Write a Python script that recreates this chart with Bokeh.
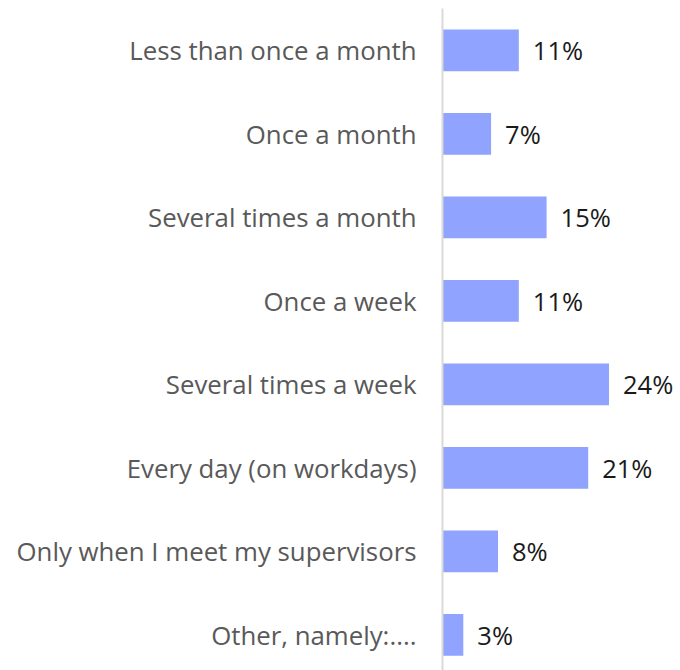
from bokeh.plotting import figure
from bokeh.models import ColumnDataSource, Range1d, FixedTicker, LabelSet
from bokeh.core.properties import value
from bokeh.embed import file_html
from bokeh.resources import INLINE

categories = [
    "Less than once a month",
    "Once a month",
    "Several times a month",
    "Once a week",
    "Several times a week",
    "Every day (on workdays)",
    "Only when I meet my supervisors",
    "Other, namely:....",
]
values = [11, 7, 15, 11, 24, 21, 8, 3]
labels = [f"{v}%" for v in values]

FONT = "Open Sans"
pos = list(range(len(categories)))

src = ColumnDataSource(dict(y=pos, v=values, lab=labels))

p = figure(width=680, height=670, output_backend="svg", toolbar_location=None,
           x_range=Range1d(0, 34.3), y_range=Range1d(7.428, -0.5),
           min_border_left=442, min_border_right=0, min_border_top=8, min_border_bottom=0)

p.hbar(y="y", right="v", left=0, height=0.5, source=src,
       fill_color="#8FA3FF", line_color=None)

lbl = LabelSet(x="v", y="y", text="lab", source=src, x_offset=14,
               text_baseline="middle", text_align="left",
               text_font=value(FONT), text_font_size=value("25.5px"),
               text_color=value("#1a1a1a"))
p.add_layout(lbl)

p.xaxis.visible = False
ax = p.yaxis[0]
ax.ticker = FixedTicker(ticks=pos)
ax.major_label_overrides = {i: c for i, c in zip(pos, categories)}
ax.major_tick_line_color = None
ax.minor_tick_line_color = None
ax.axis_line_color = "#d9d9d9"
ax.axis_line_width = 2
ax.major_label_standoff = 20
ax.major_label_text_font = FONT
ax.major_label_text_font_size = "25.8px"
ax.major_label_text_color = "#595959"

p.xgrid.visible = False
p.ygrid.visible = False
p.outline_line_color = None
p.background_fill_color = "white"
p.border_fill_color = "white"

open("out.html", "w").write(file_html(p, INLINE))
